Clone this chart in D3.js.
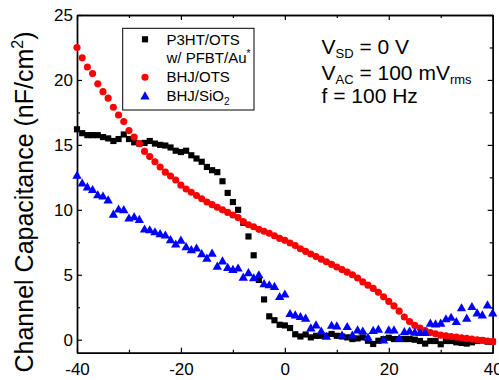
<!DOCTYPE html>
<html>
<head>
<meta charset="utf-8">
<script src="https://cdn.jsdelivr.net/npm/d3@7/dist/d3.min.js"></script>
<style>
  html, body { margin: 0; padding: 0; background: #fff; }
  svg { display: block; font-family: "Liberation Sans", Arial, sans-serif; }
</style>
</head>
<body>
<svg id="chart" width="499" height="380"></svg>
<script>
// Gate voltage sweep (V), 1 V steps from -40 to 40
const gateVoltage = d3.range(-40, 41, 1);

// P3HT/OTS w/ PFBT/Au* (nF/cm^2)
const p3htOts = [
  16.2, 15.9, 15.75, 15.75, 15.75, 15.6, 15.5, 15.3, 15.45, 15.8,
  15.45, 15.2, 15.1, 15.15, 15.3, 15.1, 15.0, 14.95, 14.8, 14.55,
  14.45, 14.55, 14.2, 13.95, 13.7, 13.3, 13.05, 12.9, 12.2, 11.3,
  10.6, 10.0, 9.0, 7.95, 6.5, 4.6, 3.1, 1.8, 1.5, 1.15,
  1.1, 0.9, 0.42, 0.25, 0.4, 0.18, 0.3, 0.3, 0.3, 0.44,
  0.3, 0.25, 0.18, 0.05, 0.1, 0.18, -0.08, -0.33, -0.08, 0.05,
  0.15, 0.05, 0.05, 0.05, 0.05, 0.0, -0.1, -0.3, -0.1, -0.1,
  -0.35, -0.1, -0.1, -0.2, -0.25, -0.3, -0.2, -0.1, -0.05, -0.15,
  -0.15
];

// BHJ/OTS (nF/cm^2)
const bhjOts = [
  22.5, 21.7, 21.0, 20.5, 19.7, 19.1, 18.6, 17.9, 17.3, 16.8,
  16.1, 15.6, 15.1, 14.5, 14.1, 13.7, 13.3, 12.9, 12.6, 12.3,
  11.9, 11.6, 11.35, 11.1, 10.85, 10.6, 10.4, 10.2, 10.0, 9.8,
  9.6, 9.4, 9.1, 8.85, 8.7, 8.5, 8.35, 8.2, 8.0, 7.8,
  7.65, 7.45, 7.25, 7.0, 6.8, 6.6, 6.4, 6.2, 6.0, 5.8,
  5.6, 5.4, 5.2, 5.0, 4.75, 4.45, 4.2, 3.95, 3.65, 3.3,
  2.95, 2.6, 2.2, 1.75, 1.4, 1.1, 0.9, 0.7, 0.55, 0.45,
  0.35, 0.3, 0.25, 0.2, 0.15, 0.1, 0.05, 0.0, -0.05, -0.1,
  -0.15
];

// BHJ/SiO2 (nF/cm^2)
const bhjSiO2 = [
  12.6, 12.0, 11.7, 11.5, 11.1, 11.0, 10.7, 9.6, 10.0, 9.95,
  9.3, 9.4, 9.2, 8.46, 8.4, 8.25, 8.1, 8.0, 7.64, 7.3,
  7.6, 7.1, 6.87, 7.0, 6.56, 6.22, 6.6, 5.6, 6.0, 5.5,
  5.35, 5.46, 4.75, 5.1, 4.7, 4.94, 4.25, 4.17, 4.04, 3.26,
  3.45, 1.95, 1.85, 1.72, 1.6, 0.85, 1.08, 0.6, 0.2, 1.05,
  1.0, 0.3, 0.95, 0.3, 0.69, 0.6, 0.12, 0.65, 0.75, -0.08,
  0.69, 0.69, 0.05, 0.56, 0.6, 0.52, 0.5, 0.5, 1.21, 1.15,
  1.21, 1.55, 1.66, 1.34, 2.4, 1.6, 2.49, 2.0, 1.85, 2.62,
  2.0
];

const xMajorTicks = [-40, -20, 0, 20, 40];
const xMinorTicks = [-30, -10, 10, 30];
const yMajorTicks = [0, 5, 10, 15, 20, 25];
const yMinorTicks = [2.5, 7.5, 12.5, 17.5, 22.5];

const svg = d3.select("#chart");
const plotLeft = 77, plotRight = 492.7, plotTop = 15, plotBottom = 352.7;

const x = d3.scaleLinear().domain([-40, 40]).range([plotLeft, plotRight]);
const y = d3.scaleLinear().domain([-1, 25]).range([plotBottom, plotTop]);

// Frame axes with inward ticks
function drawAxis(axisGen, tx, ty, withLabels, fontSize) {
  const g = svg.append("g").attr("transform", `translate(${tx},${ty})`).call(axisGen);
  g.select(".domain").attr("stroke", "#000").attr("stroke-width", 1.4);
  g.selectAll(".tick line").attr("stroke", "#000").attr("stroke-width", 1.2);
  if (withLabels) {
    g.selectAll(".tick text").attr("fill", "#000").style("font-size", fontSize + "px")
      .style("font-family", '"Liberation Sans", Arial, sans-serif');
  } else {
    g.selectAll(".tick text").remove();
  }
  return g;
}

const fmt = d => String(d);

drawAxis(d3.axisBottom(x).tickValues(xMajorTicks).tickSize(-5).tickSizeOuter(0).tickPadding(10).tickFormat(fmt), 0, plotBottom, true, 17);
drawAxis(d3.axisBottom(x).tickValues(xMinorTicks).tickSize(-3).tickSizeOuter(0), 0, plotBottom, false);
drawAxis(d3.axisTop(x).tickValues(xMajorTicks).tickSize(-5).tickSizeOuter(0), 0, plotTop, false);
drawAxis(d3.axisTop(x).tickValues(xMinorTicks).tickSize(-3).tickSizeOuter(0), 0, plotTop, false);

drawAxis(d3.axisLeft(y).tickValues(yMajorTicks).tickSize(-5).tickSizeOuter(0).tickPadding(4).tickFormat(fmt), plotLeft, 0, true, 17);
drawAxis(d3.axisLeft(y).tickValues(yMinorTicks).tickSize(-3).tickSizeOuter(0), plotLeft, 0, false);
drawAxis(d3.axisRight(y).tickValues(yMajorTicks).tickSize(-5).tickSizeOuter(0), plotRight, 0, false);
drawAxis(d3.axisRight(y).tickValues(yMinorTicks).tickSize(-3).tickSizeOuter(0), plotRight, 0, false);

// Data series: squares, circles, triangles
const series = [
  { values: p3htOts, color: "#000000", symbol: d3.symbolSquare, size: 38 },
  { values: bhjOts, color: "#ff0000", symbol: d3.symbolCircle, size: 40 },
  { values: bhjSiO2, color: "#0000ff", symbol: d3.symbolTriangle, size: 38 }
];

const plot = svg.append("g");
series.forEach(s => {
  const sym = d3.symbol().type(s.symbol).size(s.size);
  plot.append("g").selectAll("path")
    .data(gateVoltage.map((v, i) => [v, s.values[i]]))
    .join("path")
    .attr("d", sym)
    .attr("fill", s.color)
    .attr("transform", d => `translate(${x(d[0])},${y(d[1])})`);
});

// Legend
const legend = svg.append("g");
legend.append("rect")
  .attr("x", 122.7).attr("y", 28.3).attr("width", 131.3).attr("height", 81.7)
  .attr("fill", "#fff").attr("stroke", "#000").attr("stroke-width", 1);

const legendRows = [
  { color: "#000000", symbol: d3.symbolSquare, size: 38, my: 39.3 },
  { color: "#ff0000", symbol: d3.symbolCircle, size: 40, my: 77.3 },
  { color: "#0000ff", symbol: d3.symbolTriangle, size: 38, my: 96.7 }
];
legendRows.forEach(r => {
  legend.append("path")
    .attr("d", d3.symbol().type(r.symbol).size(r.size)())
    .attr("fill", r.color)
    .attr("transform", `translate(145,${r.my})`);
});

const legendFont = 15;
function legendText(yPos) {
  return legend.append("text").attr("x", 166.5).attr("y", yPos)
    .style("font-size", legendFont + "px").attr("fill", "#000");
}
legendText(44.5).text("P3HT/OTS");
const t2 = legendText(63);
t2.append("tspan").text("w/ PFBT/Au");
t2.append("tspan").attr("dy", -6).style("font-size", "10px").text("*");
legendText(82).text("BHJ/OTS");
const t4 = legendText(101);
t4.append("tspan").text("BHJ/SiO");
t4.append("tspan").attr("dy", 4).style("font-size", "10px").text("2");

// Measurement conditions
const cond = svg.append("g").style("font-size", "21px").attr("fill", "#000");
const c1 = cond.append("text").attr("x", 321.5).attr("y", 53.5);
c1.append("tspan").text("V");
c1.append("tspan").attr("dy", 4).style("font-size", "13px").text("SD");
c1.append("tspan").attr("dy", -4).text(" = 0 V");

const c2 = cond.append("text").attr("x", 321.5).attr("y", 80);
c2.append("tspan").text("V");
c2.append("tspan").attr("dy", 3.5).style("font-size", "13px").text("AC");
c2.append("tspan").attr("dy", -3.5).text(" = 100 mV");
c2.append("tspan").attr("dy", 3.5).style("font-size", "13px").text("rms");

cond.append("text").attr("x", 321.5).attr("y", 102.5).text("f = 100 Hz");

// Y axis title
const yt = svg.append("text")
  .attr("transform", "translate(33,202) rotate(-90)")
  .attr("text-anchor", "middle")
  .style("font-size", "25px").attr("fill", "#000");
yt.append("tspan").text("Channel Capacitance (nF/cm");
yt.append("tspan").attr("dy", -10).style("font-size", "16px").text("2");
yt.append("tspan").attr("dy", 10).text(")");
</script>
</body>
</html>
